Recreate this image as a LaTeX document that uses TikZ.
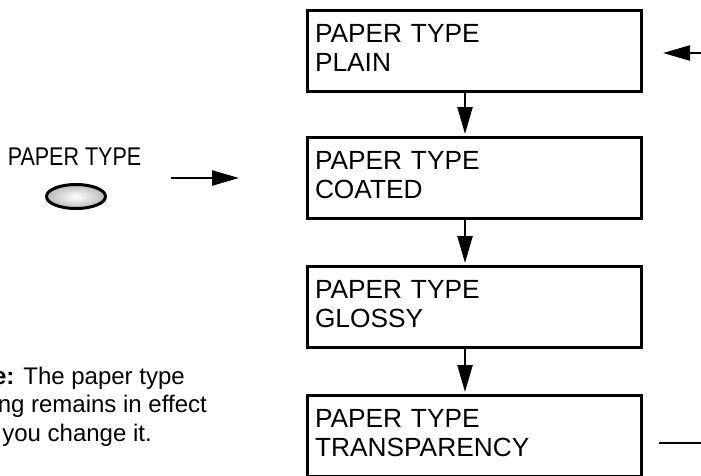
\documentclass[tikz,border=0pt]{standalone}
\usepackage{fontspec}
\setmainfont{Liberation Sans}
\usepackage{graphicx}
\usetikzlibrary{arrows.meta,shapes.geometric}
\tikzset{
  box/.style={draw, line width=3pt, minimum width=334pt, minimum height=81pt,
    text width=318pt, align=left, inner xsep=8pt, inner ysep=0pt, text depth=33.6pt,
    font=\fontsize{26.3}{29}\selectfont},
  arr/.style={line width=2.3pt, -{Triangle[length=27pt,width=15pt]}},
  plain line/.style={line width=2.3pt},
  note/.style={inner sep=0pt, font=\fontsize{24}{28}\selectfont},
  btnlabel/.style={inner sep=0pt, font=\fontsize{25.6}{30}\selectfont},
  button/.style={ellipse, draw, line width=3pt, minimum width=59pt, minimum height=24pt,
    inner sep=0pt, shading=radial, inner color=white, outer color=gray!55}
}
\begin{document}
\begin{tikzpicture}[x=1pt,y=-1pt]
\useasboundingbox (0,0) rectangle (701,475);
\clip (0,0) rectangle (701,475);
% display boxes
\node[box] (b1) at (474,50.5) {PAPER TYPE\\PLAIN};
\node[box] (b2) at (474,177.5) {PAPER TYPE\\COATED};
\node[box] (b3) at (474,306.5) {PAPER TYPE\\GLOSSY};
\node[box] (b4) at (474,435.5) {PAPER TYPE\\TRANSPARENCY};
\coordinate (ax) at (465,0);
\draw[arr, shorten >=1.5pt] (b1.south -| ax) -- (b2.north -| ax);
\draw[arr, shorten >=1.5pt] (b2.south -| ax) -- (b3.north -| ax);
\draw[arr, shorten >=1.5pt] (b3.south -| ax) -- (b4.north -| ax);
% loop back (cropped)
\coordinate (rin) at (720,53);
\coordinate (rtip) at (663,53);
\draw[arr] (rin) -- (rtip);
\coordinate (rout1) at (659,443);
\coordinate (rout2) at (720,443);
\draw[plain line] (rout1) -- (rout2);
% button
\node[btnlabel, anchor=base] (lbl) at (74.5,165) {\scalebox{0.84}[1]{PAPER TYPE}};
\node[button] (btn) at (76,196.5) {};
\coordinate (la1) at (171,178);
\coordinate (la2) at (239,178);
\draw[arr] (la1) -- (la2);
% note (cropped at left)
\node[note, anchor=base east] (n1) at (185,384) {\textbf{Note:} The paper type};
\node[note, anchor=base east] (n2) at (207,412.5) {setting remains in effect};
\node[note, anchor=base east] (n3) at (152,441) {until you change it.};
\end{tikzpicture}
\end{document}
